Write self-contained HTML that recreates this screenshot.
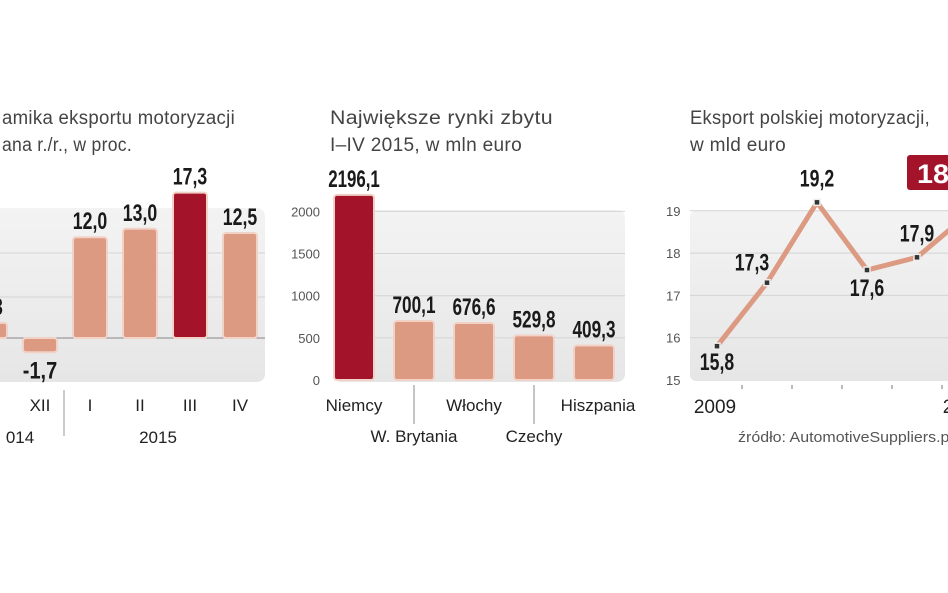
<!DOCTYPE html>
<html><head><meta charset="utf-8"><style>
body{margin:0;background:#fff;width:948px;height:593px;overflow:hidden}
svg{display:block}
text{font-family:"Liberation Sans Narrow","Liberation Sans",sans-serif}
.t{font-family:"Liberation Sans",sans-serif;font-size:19px;fill:#444;letter-spacing:0.3px}
.v{font-size:24px;font-weight:bold;fill:#1a1a1a;text-anchor:middle}
.c{font-family:"Liberation Sans",sans-serif;font-size:17px;fill:#222;text-anchor:middle}
.a{font-family:"Liberation Sans",sans-serif;font-size:13px;fill:#555}
</style></head><body>
<svg id="s" width="948" height="593">
<defs><linearGradient id="g" x1="0" y1="0" x2="0" y2="1"><stop offset="0" stop-color="#f3f3f3"/><stop offset="1" stop-color="#e6e6e6"/></linearGradient></defs>
<text class="t" x="2" y="124" textLength="233" lengthAdjust="spacingAndGlyphs">amika eksportu motoryzacji</text>
<text class="t" x="2" y="151" textLength="130" lengthAdjust="spacingAndGlyphs">ana r./r., w proc.</text>
<text class="t" x="330" y="124" textLength="223" lengthAdjust="spacingAndGlyphs">Największe rynki zbytu</text>
<text class="t" x="330" y="151" textLength="192" lengthAdjust="spacingAndGlyphs">I–IV 2015, w mln euro</text>
<text class="t" x="690" y="124" textLength="240" lengthAdjust="spacingAndGlyphs">Eksport polskiej motoryzacji,</text>
<text class="t" x="690" y="151" textLength="96" lengthAdjust="spacingAndGlyphs">w mld euro</text>
<rect x="-10" y="208" width="275" height="174" rx="8" fill="url(#g)"/>
<rect x="333" y="210" width="292" height="172" rx="8" fill="url(#g)"/>
<rect x="690" y="211" width="270" height="170" rx="6" fill="url(#g)"/>
<g id="L"></g><g id="M"></g><g id="R"></g>
<line x1="64" y1="390" x2="64" y2="436" stroke="#999"/>
<text class="c" x="20" y="443">014</text>
<text class="c" x="158" y="443">2015</text>
<text class="c" x="715" y="413" style="font-size:19px">2009</text>
<text class="c" x="948" y="413" style="font-size:19px">2</text>
<rect x="907" y="155" width="50" height="35" rx="3" fill="#a3132a"/>
<text x="917" y="183" textLength="40" lengthAdjust="spacingAndGlyphs" style="font-size:27px;font-weight:bold;fill:#fff">18,</text>
<text x="738" y="442" textLength="215" lengthAdjust="spacingAndGlyphs" style="font-family:'Liberation Sans',sans-serif;font-size:15px;fill:#555">źródło: AutomotiveSuppliers.pl</text>
</svg>
<script>
const leftCats=["XI","XII","I","II","III","IV"];
const leftVals=[1.8,-1.7,12.0,13.0,17.3,12.5];
const leftLabels=["2,3","-1,7","12,0","13,0","17,3","12,5"];
const midCats=["Niemcy","W. Brytania","Włochy","Czechy","Hiszpania"];
const midVals=[2196.1,700.1,676.6,529.8,409.3];
const midTicks=[0,500,1000,1500,2000];
const rightVals=[15.8,17.3,19.2,17.6,17.9,18.9];
const rightTicks=[15,16,17,18,19];
const NS="http://www.w3.org/2000/svg";
function mk(p,t,a,txt){const e=document.createElementNS(NS,t);for(const k in a)e.setAttribute(k,a[k]);if(txt!==undefined)e.textContent=txt;p.appendChild(e);return e;}
function val(p,x,y,s){const t=mk(p,'text',{class:'v',x:x,y:y,textLength:s.length*8.6,lengthAdjust:'spacingAndGlyphs'},s);return t;}
// left
const L=document.getElementById('L');
const ly=v=>338-v*8.4;
[253,297].forEach(y=>mk(L,'line',{x1:-10,x2:265,y1:y,y2:y,stroke:'#d4d4d4'}));
mk(L,'line',{x1:-10,x2:265,y1:338,y2:338,stroke:'#888'});
leftVals.forEach((v,i)=>{
 const cx=-10+i*50, x=cx-17;
 const y=Math.min(ly(v),ly(0)), h=Math.abs(ly(v)-ly(0));
 const r=mk(L,'rect',{x:x,y:y,width:34,height:h,rx:3,fill:i==4?'#a3132a':'#dc9a82',stroke:'#f2d2c6','stroke-width':2});
 
 
 const t=val(L,cx,v<0?ly(v)+26:ly(v)-8,leftLabels[i]);
 
 
 if(i>0){const c=mk(L,'text',{class:'c',x:cx,y:411},leftCats[i]);
 
 }
});
// middle
const M=document.getElementById('M');
const my=v=>380-v*0.0843;
midTicks.forEach(t=>{
 if(t>0)mk(M,'line',{x1:333,x2:625,y1:my(t),y2:my(t),stroke:'#d4d4d4'});
 const e=mk(M,'text',{class:'a',x:320,y:my(t)+5,'text-anchor':'end'},t);
 
 
});
midVals.forEach((v,i)=>{
 const cx=354+i*60;
 const r=mk(M,'rect',{x:cx-20,y:my(v),width:40,height:380-my(v),rx:3,fill:i==0?'#a3132a':'#dc9a82',stroke:'#f2d2c6','stroke-width':2});
 
 
 const t=val(M,cx,my(v)-8,v.toFixed(1).replace('.',','));
 
 
 const low=i%2==1;
 if(low)mk(M,'line',{x1:cx,x2:cx,y1:385,y2:424,stroke:'#888'});
 const c=mk(M,'text',{class:'c',x:cx+(i==4?4:0),y:low?442:411},midCats[i]);
 
 
});
// right
const R=document.getElementById('R');
const rx=i=>717+i*50, ry=v=>380-(v-15)*42.3;
rightTicks.forEach(t=>{
 if(t>15)mk(R,'line',{x1:690,x2:948,y1:ry(t),y2:ry(t),stroke:'#d4d4d4'});
 const e=mk(R,'text',{class:'a',x:666,y:ry(t)+5},t);
 
 
});
for(let i=0;i<6;i++)mk(R,'line',{x1:rx(i)+25,x2:rx(i)+25,y1:385,y2:389,stroke:'#777'});
const pl=mk(R,'polyline',{points:rightVals.map((v,i)=>rx(i)+','+ry(v)).join(' '),fill:'none',stroke:'#dc9a82','stroke-width':5,'stroke-linejoin':'round'});


const off=[[0,24],[-15,-12],[0,-16],[0,26],[0,-16],[0,-16]];
rightVals.forEach((v,i)=>{
 const p=mk(R,'rect',{x:rx(i)-3,y:ry(v)-3,width:6,height:6,fill:'#333',stroke:'#eee','stroke-width':1.5});
 
 
 const t=val(R,rx(i)+off[i][0],ry(v)+off[i][1],v.toFixed(1).replace('.',','));
 
 
});
</script>
</body></html>
